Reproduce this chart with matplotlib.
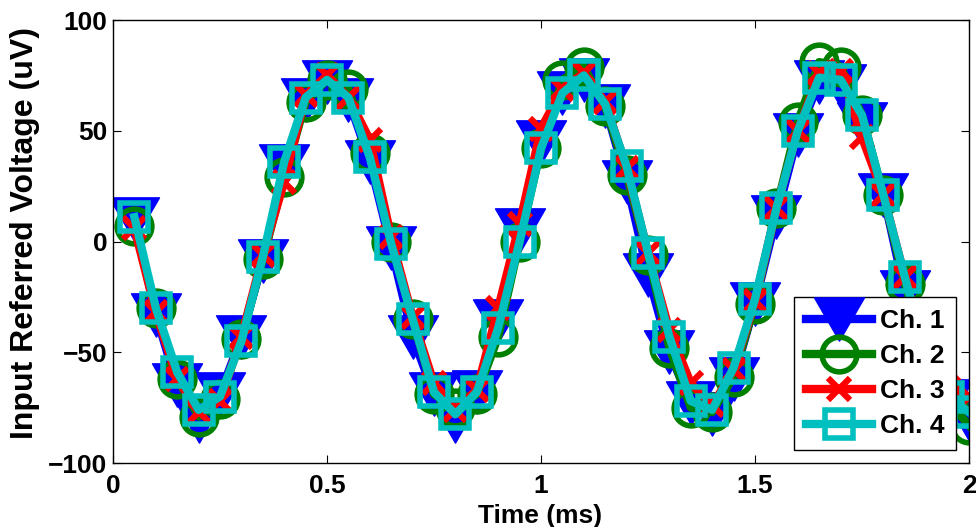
import matplotlib
matplotlib.use('Agg')
import matplotlib.pyplot as plt
from matplotlib.path import Path

# sample times (ms)
t = [0.05, 0.10, 0.15, 0.20, 0.25, 0.30, 0.35, 0.40, 0.45, 0.50,
     0.55, 0.60, 0.65, 0.70, 0.75, 0.80, 0.85, 0.90, 0.95, 1.00,
     1.05, 1.10, 1.15, 1.20, 1.25, 1.30, 1.35, 1.40, 1.45, 1.50,
     1.55, 1.60, 1.65, 1.70, 1.75, 1.80, 1.85, 1.90, 1.95, 2.00]

# input referred voltage (uV) per channel
ch1 = [10, -33, -65, -81, -69, -43, -9, 34, 64, 72,
       64, 36, -3, -43, -69, -81, -68, -36, 5, 45,
       67, 73, 61, 27, -15, -50, -73, -78, -62, -28,
       11, 48, 72, 70, 53, 21, -23, -55, -72, -80]
ch2 = [7, -30, -62, -79, -71, -44, -8, 29, 63, 73,
       69, 40, 0, -35, -69, -75, -69, -43, 0, 42,
       73, 79, 61, 30, -6, -48, -75, -77, -61, -28,
       15, 54, 81, 79, 57, 21, -19, -52, -72, -83]
ch3 = [6, -32, -62, -77, -72, -43, -6, 27, 66, 75,
       65, 46, 2, -34, -64, -76, -67, -30, 8, 51,
       69, 76, 63, 33, -5, -40, -64, -74, -58, -27,
       15, 50, 76, 77, 47, 21, -16, -50, -66, -70]
ch4 = [11, -30, -59, -76, -70, -45, -7, 36, 65, 73,
       65, 38, -1, -35, -68, -78, -68, -39, 0, 42,
       67, 75, 62, 34, -5, -43, -72, -76, -57, -26,
       15, 50, 74, 73, 57, 21, -16, -52, -70, -77]

names = ['Ch. 1', 'Ch. 2', 'Ch. 3', 'Ch. 4']
colors = [(0, 0, 1), (0, 0.5, 0), (1, 0, 0), (0, 0.75, 0.75)]

# equilateral down-pointing triangle
tri = Path([(-1, 0.866), (1, 0.866), (0, -0.866), (-1, 0.866)],
           [Path.MOVETO, Path.LINETO, Path.LINETO, Path.CLOSEPOLY])

plt.rcParams['font.family'] = ['Liberation Sans', 'DejaVu Sans']
plt.rcParams['font.weight'] = 'bold'

fig = plt.figure(figsize=(9.76, 5.27), dpi=100)
ax = fig.add_axes([0.1158, 0.1214, 0.8770, 0.8406])

lw = 6
ax.plot(t, ch1, color=colors[0], lw=lw, marker=tri, ms=36,
        mfc=colors[0], mec=colors[0], mew=1, label=names[0])
ax.plot(t, ch2, color=colors[1], lw=lw, marker='o', ms=25,
        mfc='none', mec=colors[1], mew=4, label=names[1])
ax.plot(t, ch3, color=colors[2], lw=lw, marker='x', ms=16,
        mec=colors[2], mew=4.5, label=names[2])
ax.plot(t, ch4, color=colors[3], lw=lw, marker='s', ms=20,
        mfc='none', mec=colors[3], mew=4, label=names[3])

ax.set_xlim(0, 2)
ax.set_ylim(-100, 100)
ax.set_xticks([0, 0.5, 1, 1.5, 2])
ax.set_xticklabels(['0', '0.5', '1', '1.5', '2'])
ax.set_yticks([-100, -50, 0, 50, 100])
ax.set_yticklabels(['\u2212100', '\u221250', '0', '50', '100'])
ax.tick_params(direction='in', top=True, right=True, length=5.5,
               width=0.8, labelsize=19)
ax.tick_params(axis='x', pad=8)
ax.tick_params(axis='y', pad=4)
for s in ax.spines.values():
    s.set_linewidth(1.0)

fig.text(540 / 976, 1 - 504 / 527, 'Time (ms)', ha='center', va='top',
         fontsize=19, fontweight='bold')
fig.text(25 / 976, 1 - 233 / 527, 'Input Referred Voltage (uV)',
         rotation=90, ha='center', va='center', fontsize=23, fontweight='bold')

leg = ax.legend(loc='lower right', bbox_to_anchor=(956 / 976, 1 - 450 / 527),
                bbox_transform=fig.transFigure, fontsize=19, frameon=True,
                fancybox=False, edgecolor='black', framealpha=1,
                handlelength=2.5, handletextpad=0.3, labelspacing=0.42,
                borderpad=0.45, borderaxespad=0)
leg.get_frame().set_linewidth(1.0)

fig.savefig('out.png', dpi=100)
